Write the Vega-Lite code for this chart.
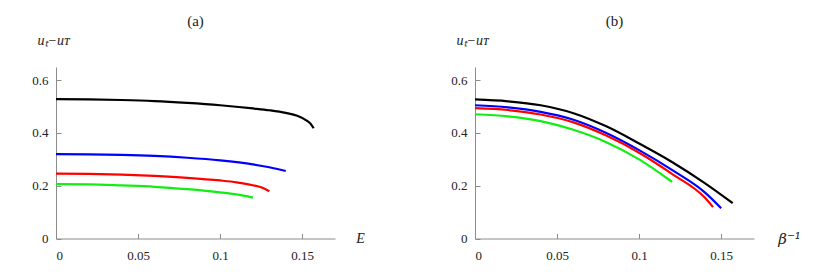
{
  "$schema": "https://vega.github.io/schema/vega-lite/v6.json",
  "padding": {"left": 31, "top": 14, "right": 0, "bottom": 0},
  "background": "white",
  "config": {
    "view": {"stroke": null},
    "concat": {"spacing": 140},
    "font": "Liberation Serif",
    "axis": {
      "domainColor": "#8c8c8c", "tickColor": "#8c8c8c", "grid": false,
      "labelFont": "Liberation Serif", "labelFontSize": 13, "labelColor": "#222222",
      "titleFont": "Liberation Serif", "titleFontWeight": "normal", "titleColor": "#222222",
      "tickSize": -5
    },
    "title": {"font": "Liberation Serif", "fontSize": 15, "fontWeight": "normal", "color": "#222222"}
  },
  "bounds": "flush",
  "datasets": {
    "a": [
      {"s": "k", "x": 0, "y": 0.528}, {"s": "k", "x": 0.02, "y": 0.527}, {"s": "k", "x": 0.04, "y": 0.525}, {"s": "k", "x": 0.06, "y": 0.521}, {"s": "k", "x": 0.08, "y": 0.514}, {"s": "k", "x": 0.1, "y": 0.505}, {"s": "k", "x": 0.12, "y": 0.493}, {"s": "k", "x": 0.13, "y": 0.486}, {"s": "k", "x": 0.14, "y": 0.476}, {"s": "k", "x": 0.147, "y": 0.465}, {"s": "k", "x": 0.153, "y": 0.446}, {"s": "k", "x": 0.155, "y": 0.436}, {"s": "k", "x": 0.157, "y": 0.418},
      {"s": "b", "x": 0, "y": 0.32}, {"s": "b", "x": 0.02, "y": 0.319}, {"s": "b", "x": 0.04, "y": 0.317}, {"s": "b", "x": 0.06, "y": 0.313}, {"s": "b", "x": 0.08, "y": 0.306}, {"s": "b", "x": 0.1, "y": 0.296}, {"s": "b", "x": 0.12, "y": 0.281}, {"s": "b", "x": 0.13, "y": 0.27}, {"s": "b", "x": 0.14, "y": 0.256},
      {"s": "r", "x": 0, "y": 0.246}, {"s": "r", "x": 0.02, "y": 0.245}, {"s": "r", "x": 0.04, "y": 0.242}, {"s": "r", "x": 0.06, "y": 0.237}, {"s": "r", "x": 0.08, "y": 0.23}, {"s": "r", "x": 0.1, "y": 0.22}, {"s": "r", "x": 0.11, "y": 0.213}, {"s": "r", "x": 0.12, "y": 0.202}, {"s": "r", "x": 0.125, "y": 0.194}, {"s": "r", "x": 0.13, "y": 0.179},
      {"s": "g", "x": 0, "y": 0.206}, {"s": "g", "x": 0.02, "y": 0.205}, {"s": "g", "x": 0.04, "y": 0.201}, {"s": "g", "x": 0.06, "y": 0.196}, {"s": "g", "x": 0.08, "y": 0.187}, {"s": "g", "x": 0.1, "y": 0.175}, {"s": "g", "x": 0.11, "y": 0.167}, {"s": "g", "x": 0.12, "y": 0.155}
    ],
    "b": [
      {"s": "k", "x": 0, "y": 0.527}, {"s": "k", "x": 0.02, "y": 0.52}, {"s": "k", "x": 0.04, "y": 0.505}, {"s": "k", "x": 0.06, "y": 0.475}, {"s": "k", "x": 0.08, "y": 0.425}, {"s": "k", "x": 0.1, "y": 0.36}, {"s": "k", "x": 0.12, "y": 0.29}, {"s": "k", "x": 0.14, "y": 0.21}, {"s": "k", "x": 0.157, "y": 0.134},
      {"s": "b", "x": 0, "y": 0.505}, {"s": "b", "x": 0.02, "y": 0.497}, {"s": "b", "x": 0.04, "y": 0.48}, {"s": "b", "x": 0.06, "y": 0.45}, {"s": "b", "x": 0.08, "y": 0.4}, {"s": "b", "x": 0.1, "y": 0.335}, {"s": "b", "x": 0.12, "y": 0.26}, {"s": "b", "x": 0.14, "y": 0.175}, {"s": "b", "x": 0.15, "y": 0.115},
      {"s": "r", "x": 0, "y": 0.494}, {"s": "r", "x": 0.02, "y": 0.487}, {"s": "r", "x": 0.04, "y": 0.47}, {"s": "r", "x": 0.06, "y": 0.44}, {"s": "r", "x": 0.08, "y": 0.39}, {"s": "r", "x": 0.1, "y": 0.325}, {"s": "r", "x": 0.12, "y": 0.245}, {"s": "r", "x": 0.14, "y": 0.155}, {"s": "r", "x": 0.145, "y": 0.119},
      {"s": "g", "x": 0, "y": 0.471}, {"s": "g", "x": 0.02, "y": 0.463}, {"s": "g", "x": 0.04, "y": 0.445}, {"s": "g", "x": 0.06, "y": 0.412}, {"s": "g", "x": 0.08, "y": 0.365}, {"s": "g", "x": 0.1, "y": 0.3}, {"s": "g", "x": 0.12, "y": 0.215}
    ]
  },
  "hconcat": [
    {
      "width": 279, "height": 171.5,
      "title": {"text": "(a)", "offset": 4},
      "data": {"name": "a"},
      "mark": {"type": "line", "strokeWidth": 2.2, "interpolate": "monotone"},
      "encoding": {
        "x": {"field": "x", "type": "quantitative", "scale": {"domain": [0, 0.17], "nice": false},
          "axis": {"values": [0, 0.05, 0.1, 0.15], "labelExpr": "datum.value == 0 ? '0' : format(datum.value, '')", "title": "E", "titleFontStyle": "italic", "titleFontSize": 14, "titleX": 304, "titleY": 4, "titleAlign": "center", "titleBaseline": "alphabetic", "labelPadding": 16}},
        "y": {"field": "y", "type": "quantitative", "scale": {"domain": [0, 0.65], "nice": false},
          "axis": {"values": [0, 0.2, 0.4, 0.6], "labelExpr": "datum.value == 0 ? '0' : format(datum.value, '')", "title": "uₜ−uᴛ", "titleFontStyle": "italic", "titleFontSize": 14, "titleAngle": 0, "titleX": -19, "titleY": -23, "titleAlign": "left", "titleBaseline": "alphabetic", "labelPadding": 13}},
        "color": {"field": "s", "type": "nominal", "scale": {"domain": ["k", "b", "r", "g"], "range": ["#000000", "#0000ff", "#ff0000", "#11ee11"]}, "legend": null}
      }
    },
    {
      "width": 279, "height": 171.5,
      "title": {"text": "(b)", "offset": 4},
      "data": {"name": "b"},
      "mark": {"type": "line", "strokeWidth": 2.2, "interpolate": "monotone"},
      "encoding": {
        "x": {"field": "x", "type": "quantitative", "scale": {"domain": [0, 0.17], "nice": false},
          "axis": {"values": [0, 0.05, 0.1, 0.15], "labelExpr": "datum.value == 0 ? '0' : format(datum.value, '')", "title": "β⁻¹", "titleFont": "DejaVu Serif", "titleFontStyle": "italic", "titleFontSize": 15, "titleX": 314, "titleY": 5, "titleAlign": "center", "titleBaseline": "alphabetic", "labelPadding": 16}},
        "y": {"field": "y", "type": "quantitative", "scale": {"domain": [0, 0.65], "nice": false},
          "axis": {"values": [0, 0.2, 0.4, 0.6], "labelExpr": "datum.value == 0 ? '0' : format(datum.value, '')", "title": "uₜ−uᴛ", "titleFontStyle": "italic", "titleFontSize": 14, "titleAngle": 0, "titleX": -19, "titleY": -23, "titleAlign": "left", "titleBaseline": "alphabetic", "labelPadding": 13}},
        "color": {"field": "s", "type": "nominal", "scale": {"domain": ["k", "b", "r", "g"], "range": ["#000000", "#0000ff", "#ff0000", "#11ee11"]}, "legend": null}
      }
    }
  ]
}
